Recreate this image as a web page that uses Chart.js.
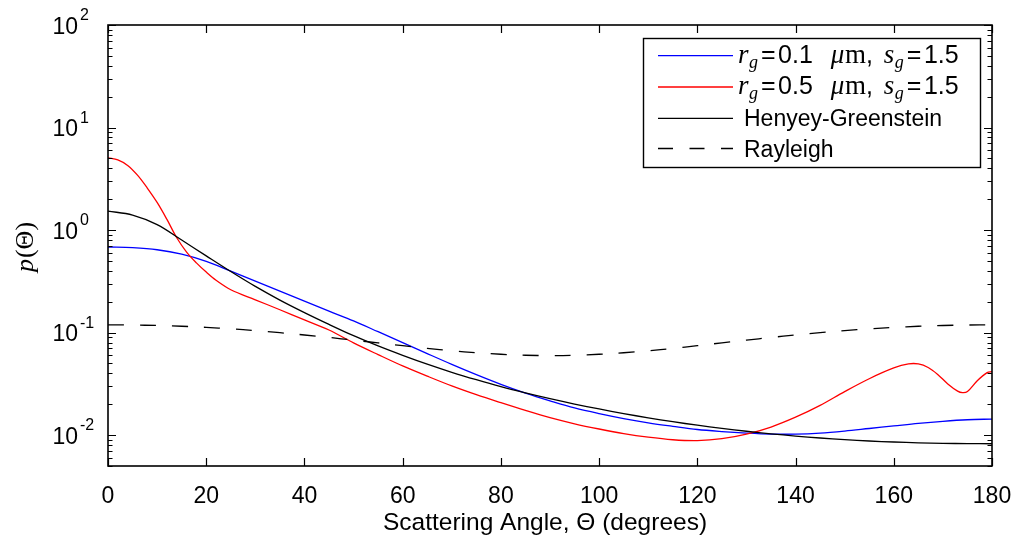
<!DOCTYPE html>
<html>
<head>
<meta charset="utf-8">
<script src="https://cdn.jsdelivr.net/npm/chart.js@4.4.1/dist/chart.umd.min.js"></script>
<style>
html,body{margin:0;padding:0;background:#ffffff;}
#wrap{width:1016px;height:540px;position:relative;}
</style>
</head>
<body>
<div id="wrap"><canvas id="c" width="1016" height="540"></canvas></div>
<script>
// ---------------- data ----------------
const angles = [0,5,10,15,20,25,30,35,40,45,50,55,60,65,70,75,80,85,90,95,100,105,110,115,120,125,130,135,140,145,150,155,160,165,170,175,180];
const blueVals = [0.684,0.673,0.643,0.582,0.495,0.398,0.318,0.254,0.203,0.162,0.130,0.102,0.0798,0.0624,0.049,0.0389,0.0313,0.0257,0.0216,0.0184,0.0162,0.0145,0.0132,0.0122,0.01135,0.01084,0.01047,0.01023,0.01023,0.01047,0.01096,0.01161,0.0123,0.01303,0.01365,0.01413,0.01435];
const blackVals = [1.531,1.400,1.130,0.800,0.560,0.394,0.282,0.2075,0.1567,0.1202,0.0933,0.0741,0.060,0.0492,0.041,0.0347,0.0297,0.0258,0.02265,0.0201,0.0180,0.01622,0.01476,0.01352,0.0125,0.01164,0.01091,0.0103,0.0098,0.00938,0.00904,0.00877,0.00857,0.00841,0.00832,0.00826,0.00824];
const rayleighVals = [0.119,0.1185,0.1173,0.1153,0.1124,0.1088,0.1045,0.0998,0.0948,0.0897,0.0844,0.0794,0.0746,0.0702,0.0665,0.0636,0.0615,0.0601,0.0597,0.0601,0.0615,0.0636,0.0665,0.0702,0.0746,0.0794,0.0844,0.0897,0.0948,0.0998,0.1045,0.1088,0.1124,0.1153,0.1173,0.1185,0.119];
const redAngles = [0,2,4,6,8,10,12,14,16,18,20,22,25,30,35,40,45,50,55,60,65,70,75,80,85,90,95,100,105,110,115,120,125,130,135,140,145,150,155,160,163,165,167,169,171,173,174,175,177,179,180];
const redVals = [5.06,4.84,4.27,3.43,2.57,1.86,1.27,0.841,0.610,0.479,0.389,0.324,0.262,0.209,0.167,0.133,0.106,0.0794,0.061,0.0473,0.0376,0.0302,0.0248,0.0207,0.0174,0.0148,0.0129,0.01148,0.01035,0.00955,0.00902,0.00885,0.00923,0.01023,0.0120,0.01496,0.0195,0.0266,0.0355,0.0452,0.0495,0.0495,0.0457,0.0389,0.0316,0.0269,0.0260,0.0266,0.0339,0.0407,0.0417];

const xTicks = [0,20,40,60,80,100,120,140,160,180];
const yDecades = [-2,-1,0,1,2];
const xTitle = "Scattering Angle, \u0398 (degrees)";
const legendNames = ["Henyey-Greenstein","Rayleigh"];
const legendRadii = ["0.1","0.5"];
const legendSigma = "1.5";

function pts(xs, ys){ return xs.map((x,i)=>({x:x,y:ys[i]})); }

const SANS = '"Liberation Sans", Arial, sans-serif';
const SERIF = '"Liberation Serif", "DejaVu Serif", serif';

function drawRich(ctx, x, y, parts){
  ctx.textAlign = 'left';
  ctx.textBaseline = 'alphabetic';
  for (const p of parts){
    ctx.font = p.f;
    ctx.fillText(p.t, x, y + (p.dy||0));
    x += ctx.measureText(p.t).width + (p.g||0);
  }
  return x;
}

const decorPlugin = {
  id: 'decor',
  afterDraw(chart){
    const ctx = chart.ctx, ca = chart.chartArea;
    const xs = chart.scales.x, ys = chart.scales.y;
    ctx.save();
    ctx.strokeStyle = '#000'; ctx.fillStyle = '#000';
    ctx.setLineDash([]);
    // frame
    ctx.lineWidth = 1.6;
    ctx.strokeRect(ca.left, ca.top, ca.right - ca.left, ca.bottom - ca.top);
    // x ticks
    ctx.lineWidth = 1.2;
    ctx.beginPath();
    for (const v of xTicks){
      const px = Math.round(xs.getPixelForValue(v)) + 0.5;
      ctx.moveTo(px, ca.bottom); ctx.lineTo(px, ca.bottom - 8);
      ctx.moveTo(px, ca.top); ctx.lineTo(px, ca.top + 8);
    }
    // y ticks (major + minor)
    for (let d = -3; d <= 2; d++){
      for (let m = 1; m <= 9; m++){
        const v = m * Math.pow(10, d);
        if (v < ys.min * 0.999 || v > ys.max * 1.001) continue;
        const py = Math.round(ys.getPixelForValue(v)) + 0.5;
        const len = (m === 1) ? 8 : 4.5;
        ctx.moveTo(ca.left, py); ctx.lineTo(ca.left + len, py);
        ctx.moveTo(ca.right, py); ctx.lineTo(ca.right - len, py);
      }
    }
    ctx.stroke();
    // x tick labels
    ctx.font = '23px ' + SANS;
    ctx.textAlign = 'center'; ctx.textBaseline = 'alphabetic';
    for (const v of xTicks){
      ctx.fillText(String(v), xs.getPixelForValue(v), ca.bottom + 37);
    }
    // y tick labels 10^d
    for (const d of yDecades){
      const py = ys.getPixelForValue(Math.pow(10, d));
      ctx.font = '23px ' + SANS;
      ctx.textAlign = 'right';
      ctx.fillText('10', 78, py + 8.5);
      ctx.font = '16px ' + SANS;
      ctx.textAlign = 'left';
      ctx.fillText(String(d), 80, py - 5);
    }
    // x title
    ctx.font = '24.5px ' + SANS;
    ctx.textAlign = 'center';
    ctx.fillText(xTitle, 545, 530);
    // y title  p(Θ)
    ctx.save();
    ctx.translate(33, 247);
    ctx.rotate(-Math.PI/2);
    ctx.font = 'italic 26px ' + SERIF;
    const w1 = ctx.measureText('p').width;
    ctx.font = '26px ' + SERIF;
    const w2 = ctx.measureText('(\u0398)').width;
    let sx = -(w1 + w2 + 1)/2;
    ctx.textAlign = 'left';
    ctx.font = 'italic 26px ' + SERIF;
    ctx.fillText('p', sx, 0);
    ctx.font = '26px ' + SERIF;
    ctx.fillText('(\u0398)', sx + w1 + 1, 0);
    ctx.restore();

    // legend
    const lx = 643, ly = 38, lw = 337, lh = 129;
    ctx.fillStyle = '#fff';
    ctx.fillRect(lx, ly, lw, lh);
    ctx.fillStyle = '#000';
    ctx.lineWidth = 1.4;
    ctx.strokeRect(lx + 0.5, ly + 0.5, lw, lh);
    const rows = [55.7, 87, 118.3, 148.5];
    const cols = ['#0000ff', '#ff0000', '#000000', '#000000'];
    for (let i = 0; i < 4; i++){
      ctx.beginPath();
      ctx.strokeStyle = cols[i];
      ctx.lineWidth = 1.3;
      ctx.setLineDash(i === 3 ? [15, 16.5] : []);
      ctx.moveTo(658, rows[i]); ctx.lineTo(733, rows[i]);
      ctx.stroke();
    }
    ctx.setLineDash([]);
    const it = 'italic 27px ' + SERIF, sub = 'italic 18px ' + SERIF, sn = '25px ' + SANS, rm = '27px ' + SERIF;
    const rich = (rv, y) => drawRich(ctx, 738, y, [
      {t:'r', f:it, g:0.5}, {t:'g', f:sub, dy:5, g:3}, {t:'=', f:sn, g:2.5}, {t:rv, f:sn, g:18},
      {t:'\u03BC', f:it, g:0.5}, {t:'m', f:rm}, {t:',', f:sn, g:11},
      {t:'s', f:it, g:0.5}, {t:'g', f:sub, dy:5, g:3}, {t:'=', f:sn, g:2.5}, {t:legendSigma, f:sn}
    ]);
    rich(legendRadii[0], rows[0] + 7);
    rich(legendRadii[1], rows[1] + 7);
    ctx.font = '23px ' + SANS; ctx.textAlign = 'left';
    ctx.fillText(legendNames[0], 744, rows[2] + 8);
    ctx.fillText(legendNames[1], 744, rows[3] + 8);
    ctx.restore();
  }
};

const common = {pointRadius:0, borderWidth:1.3, fill:false, tension:0.35};
new Chart(document.getElementById('c'), {
  type: 'line',
  data: {
    datasets: [
      Object.assign({label:'r_g=0.1 \u03BCm, s_g=1.5', data:pts(angles, blueVals), borderColor:'#0000ff', order:3}, common),
      Object.assign({label:'r_g=0.5 \u03BCm, s_g=1.5', data:pts(redAngles, redVals), borderColor:'#ff0000', order:2}, common),
      Object.assign({label:legendNames[0], data:pts(angles, blackVals), borderColor:'#000000', order:1}, common),
      Object.assign({label:legendNames[1], data:pts(angles, rayleighVals), borderColor:'#000000', borderDash:[16,16], order:0}, common)
    ]
  },
  options: {
    responsive: false,
    animation: false,
    devicePixelRatio: 1,
    layout: {padding: {left:108, right:24, top:25, bottom:74}},
    plugins: {legend:{display:false}, tooltip:{enabled:false}, title:{display:false}},
    scales: {
      x: {type:'linear', min:0, max:180, display:false},
      y: {type:'logarithmic', min:0.005, max:100, display:false}
    }
  },
  plugins: [decorPlugin]
});
</script>
</body>
</html>
